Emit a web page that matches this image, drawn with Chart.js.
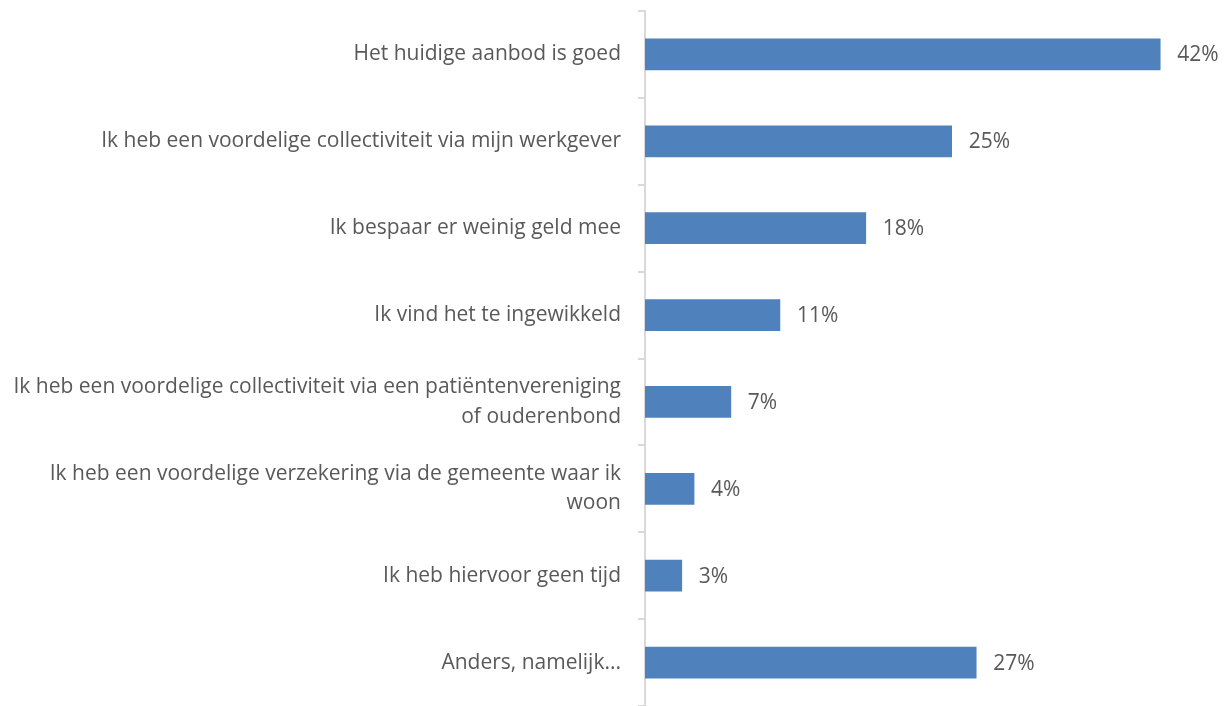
<!DOCTYPE html>
<html>
<head>
<meta charset="utf-8">
<script src="https://cdn.jsdelivr.net/npm/chart.js@4/dist/chart.umd.min.js"></script>
<style>
  html, body { margin: 0; padding: 0; background: #fff; }
  #wrap { width: 1230px; height: 706px; }
</style>
</head>
<body>
<div id="wrap"><canvas id="chart"></canvas></div>
<script>
const labels = [
  'Het huidige aanbod is goed',
  'Ik heb een voordelige collectiviteit via mijn werkgever',
  'Ik bespaar er weinig geld mee',
  'Ik vind het te ingewikkeld',
  ['Ik heb een voordelige collectiviteit via een patiëntenvereniging', 'of ouderenbond'],
  ['Ik heb een voordelige verzekering via de gemeente waar ik', 'woon'],
  'Ik heb hiervoor geen tijd',
  'Anders, namelijk...'
];
const values = [42, 25, 18, 11, 7, 4, 3, 27];

const textColor = '#595959';
const fontFamily = '"Open Sans", sans-serif';

// percentages next to the bar ends
const valueLabels = {
  id: 'valueLabels',
  afterDatasetsDraw(chart) {
    const ctx = chart.ctx;
    const meta = chart.getDatasetMeta(0);
    ctx.save();
    ctx.font = '21px ' + fontFamily;
    ctx.fillStyle = textColor;
    ctx.textAlign = 'left';
    ctx.textBaseline = 'middle';
    meta.data.forEach((bar, i) => {
      ctx.fillText(values[i] + '%', bar.x + 17, bar.y + 1);
    });
    ctx.restore();
  }
};

new Chart(document.getElementById('chart'), {
  type: 'bar',
  data: {
    labels: labels,
    datasets: [{
      data: values,
      backgroundColor: '#4f81bd',
      borderWidth: 0,
      barThickness: 31
    }]
  },
  options: {
    indexAxis: 'y',
    responsive: true,
    maintainAspectRatio: false,
    animation: false,
    layout: { padding: { top: 11, right: 33, bottom: 0, left: 0 } },
    plugins: {
      legend: { display: false },
      tooltip: { enabled: false }
    },
    scales: {
      x: {
        display: false,
        min: 0,
        max: 45
      },
      y: {
        afterFit: (scale) => {
          scale.width = 645;
          scale.paddingTop = 0;
          scale.paddingBottom = 0;
        },
        border: { color: '#d9d9d9', width: 2 },
        grid: {
          drawOnChartArea: false,
          color: '#d9d9d9',
          lineWidth: 2,
          tickLength: 7
        },
        ticks: {
          color: textColor,
          padding: 17,
          font: { family: fontFamily, size: 21, lineHeight: 1.4 }
        }
      }
    }
  },
  plugins: [valueLabels]
});
</script>
</body>
</html>
